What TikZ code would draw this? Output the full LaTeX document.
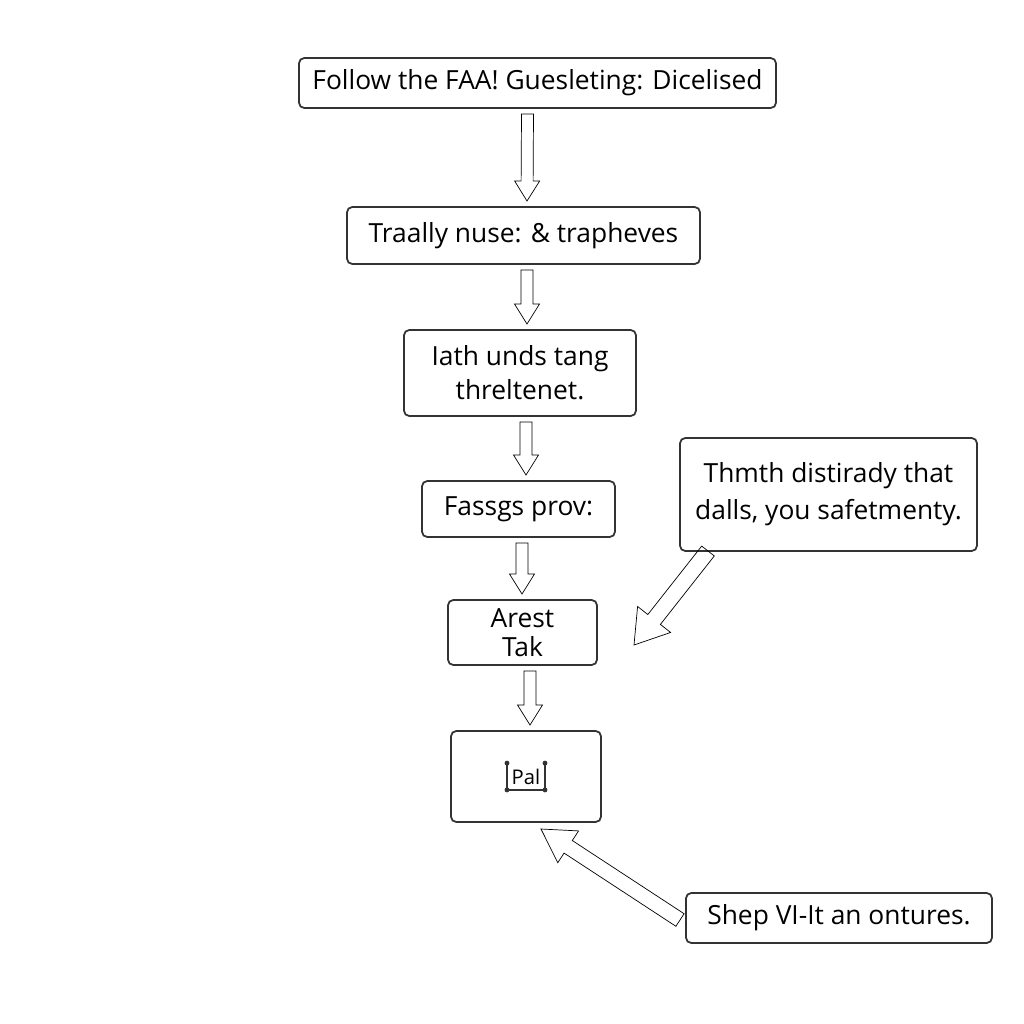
\documentclass[tikz,border=0pt]{standalone}
\usepackage{fontspec}
\setmainfont{Open Sans}
\usepackage{tikz}
\usepackage{xcolor}
\usetikzlibrary{calc}

\tikzset{
  box/.style={draw=black!80, line width=1pt, rounded corners=3pt, fill=white,
    align=center, inner sep=2pt, outer sep=1.2mm,
    font=\fontsize{15}{19.5}\selectfont},
  hollow/.style n args={3}{draw=black!85, line width=1pt, fill=white, line join=miter,
    to path={
    let \p{h}=($(\tikztotarget)!#3!(\tikztostart)$) in
    ($(\tikztostart)!#1!90:(\tikztotarget)$)
    -- ($(\p{h})!#1!-90:(\tikztostart)$)
    -- ($(\p{h})!#2!-90:(\tikztostart)$)
    -- (\tikztotarget)
    -- ($(\p{h})!#2!90:(\tikztostart)$)
    -- ($(\p{h})!#1!90:(\tikztostart)$)
    -- ($(\tikztostart)!#1!-90:(\tikztotarget)$)
    -- cycle}}
}

\begin{document}
\begin{tikzpicture}[x=0.2mm, y=-0.2mm]
\fill[white] (0,0) rectangle (1024,1024);
\useasboundingbox (0,0) rectangle (1024,1024);

% Main column
\node[box, minimum width=95.4mm, minimum height=10mm] (guide) at (537.5,83) {Follow the FAA! Guesleting: Dicelised};
\node[box, minimum width=70.6mm, minimum height=11.4mm] (nuse) at (523.5,235.5) {Traally nuse: \& trapheves};
\node[box, minimum width=46.4mm, minimum height=17.2mm] (iath) at (520,373) {Iath unds tang\\ threltenet.};
\node[box, minimum width=38.6mm, minimum height=11.2mm] (fassgs) at (518.5,509) {Fassgs prov:};
\node[box, minimum width=29.8mm, minimum height=13mm, font=\fontsize{15}{16.5}\selectfont] (arest) at (522.5,632.5) {Arest\\ Tak};
\node[box, minimum width=30mm, minimum height=18.2mm] (pal) at (526,776.5) {};
\node[font=\fontsize{11.5}{13}\selectfont, inner xsep=2.5pt, inner ysep=3pt] (palmark) at (pal.center) {Pal};
\draw[black!80, line width=0.8pt] (palmark.north west) -- (palmark.south west) -- (palmark.south east) -- (palmark.north east);
\foreach \c in {north west, south west, south east, north east}
  \fill[black!80] (palmark.\c) circle (1.4pt);

% Side notes
\node[box, minimum width=59.4mm, minimum height=22.6mm, font=\fontsize{15}{21}\selectfont] (safety) at (828.5,494.5) {Thmth distirady that\\ dalls, you safetmenty.};
\node[box, minimum width=61.2mm, minimum height=10mm] (shep) at (839,918) {Shep VI-It an ontures.};
\coordinate (safetytip) at (634,645);
\coordinate (shephead) at (541,829);

% Flow arrows
\draw ([xshift=-2mm]guide.south) to[hollow={1.2mm}{2.5mm}{4mm}] ([xshift=0.7mm]nuse.north);
\draw ([xshift=0.7mm]nuse.south) to[hollow={1.2mm}{2.5mm}{4mm}] ([xshift=1.4mm]iath.north);
\draw ([xshift=1.2mm]iath.south) to[hollow={1.2mm}{2.5mm}{4mm}] ([xshift=1.5mm]fassgs.north);
\draw ([xshift=0.7mm]fassgs.south) to[hollow={1.2mm}{2.5mm}{4mm}] ([xshift=-0.1mm]arest.north);
\draw ([xshift=1.5mm]arest.south) to[hollow={1.2mm}{2.5mm}{4mm}] ([xshift=0.8mm]pal.north);

% Note arrows
\draw ([xshift=6.8mm, yshift=1.2mm]safety.south west) to[hollow={1.6mm}{4.2mm}{6.5mm}] (safetytip);
\draw ([yshift=-0.4mm]shep.west) to[hollow={1.5mm}{3.8mm}{6.5mm}] (shephead);
\end{tikzpicture}
\end{document}
